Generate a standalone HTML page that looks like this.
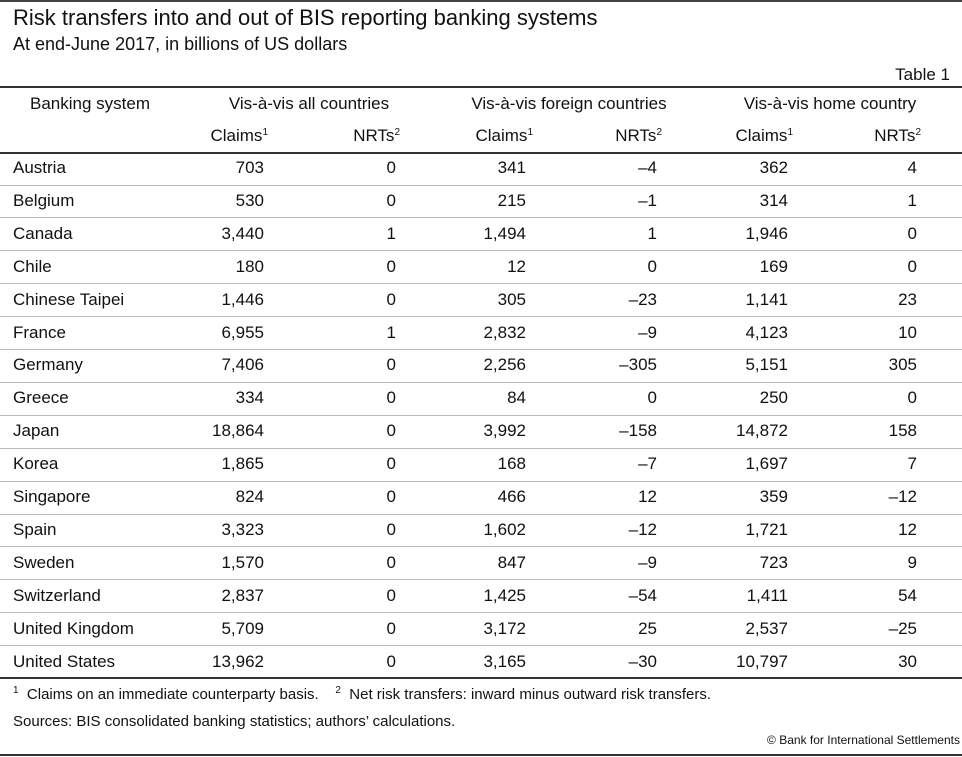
<!DOCTYPE html>
<html><head><meta charset="utf-8"><style>
body{margin:0;width:962px;height:757px;background:#fff;position:relative;overflow:hidden;font-family:"Liberation Sans",sans-serif;color:#111}
.t{position:absolute;white-space:nowrap;line-height:1}
.r{text-align:right}
.c{text-align:center}
.hl{position:absolute;left:0;width:962px}
sup{font-size:10px;vertical-align:6px;line-height:0}
</style></head><body>
<div class="hl" style="top:0;height:2px;background:#444"></div>
<div class="t" style="left:13px;top:7px;font-size:22px">Risk transfers into and out of BIS reporting banking systems</div>
<div class="t" style="left:13px;top:35px;font-size:18px">At end-June 2017, in billions of US dollars</div>
<div class="t r" style="right:12px;top:66px;font-size:17px">Table 1</div>
<div class="hl" style="top:86px;height:2px;background:#333"></div>
<div class="t" style="left:30px;top:95px;font-size:17px">Banking system</div>
<div class="t c" style="left:201px;width:216px;top:95px;font-size:17px">Vis-à-vis all countries</div>
<div class="t c" style="left:439px;width:260px;top:95px;font-size:17px">Vis-à-vis foreign countries</div>
<div class="t c" style="left:710px;width:240px;top:95px;font-size:17px">Vis-à-vis home country</div>
<div id="hdr"></div>
<div class="hl" style="top:152px;height:2px;background:#333"></div>
<div id="rows"></div>
<div class="hl" style="top:677px;height:2px;background:#333"></div>
<div class="t" style="left:13px;top:687px;font-size:15px"><sup>1</sup>&nbsp; Claims on an immediate counterparty basis. &nbsp;&nbsp; <sup>2</sup>&nbsp; Net risk transfers: inward minus outward risk transfers.</div>
<div class="t" style="left:13px;top:714px;font-size:15px">Sources: BIS consolidated banking statistics; authors’ calculations.</div>
<div class="t r" style="right:2px;top:734px;font-size:12px">© Bank for International Settlements</div>
<div class="hl" style="top:754px;height:2px;background:#333"></div>
<script>
const banks=["Austria","Belgium","Canada","Chile","Chinese Taipei","France","Germany","Greece","Japan","Korea","Singapore","Spain","Sweden","Switzerland","United Kingdom","United States"];
const allClaims=["703","530","3,440","180","1,446","6,955","7,406","334","18,864","1,865","824","3,323","1,570","2,837","5,709","13,962"];
const allNRT=["0","0","1","0","0","1","0","0","0","0","0","0","0","0","0","0"];
const forClaims=["341","215","1,494","12","305","2,832","2,256","84","3,992","168","466","1,602","847","1,425","3,172","3,165"];
const forNRT=["–4","–1","1","0","–23","–9","–305","0","–158","–7","12","–12","–9","–54","25","–30"];
const homeClaims=["362","314","1,946","169","1,141","4,123","5,151","250","14,872","1,697","359","1,721","723","1,411","2,537","10,797"];
const homeNRT=["4","1","0","0","23","10","305","0","158","7","–12","12","9","54","–25","30"];
const cols=[allClaims,allNRT,forClaims,forNRT,homeClaims,homeNRT];
const colNames=["all-claims","all-nrts","foreign-claims","foreign-nrts","home-claims","home-nrts"];
const rights=[264,396,526,657,788,917];
const hdr=document.getElementById('hdr');
const subh=['Claims<sup>1</sup>','NRTs<sup>2</sup>'];
const hr=[268,400,533,662,793,921];
for(let j=0;j<6;j++){
  const d=document.createElement('div');
  d.className='t';
  d.style.cssText='right:'+(962-hr[j])+'px;top:127px;font-size:17px';
  d.innerHTML=subh[j%2];
  
  
  hdr.appendChild(d);
}
const rows=document.getElementById('rows');
for(let i=0;i<banks.length;i++){
  const y=168+i*32.9;
  const n=document.createElement('div');
  n.className='t';
  n.style.cssText='left:13px;top:'+(y-9)+'px;font-size:17px';
  n.textContent=banks[i];
  
  
  rows.appendChild(n);
  for(let j=0;j<6;j++){
    const d=document.createElement('div');
    d.className='t';
    d.style.cssText='right:'+(962-rights[j])+'px;top:'+(y-9)+'px;font-size:17px';
    d.textContent=cols[j][i];
    
    
    rows.appendChild(d);
  }
  if(i<banks.length-1){
    const l=document.createElement('div');
    l.className='hl';
    l.style.cssText='top:'+Math.round(y+16.5)+'px;height:1px;background:#bbb';
    
    
    rows.appendChild(l);
  }
}
</script>
</body></html>
